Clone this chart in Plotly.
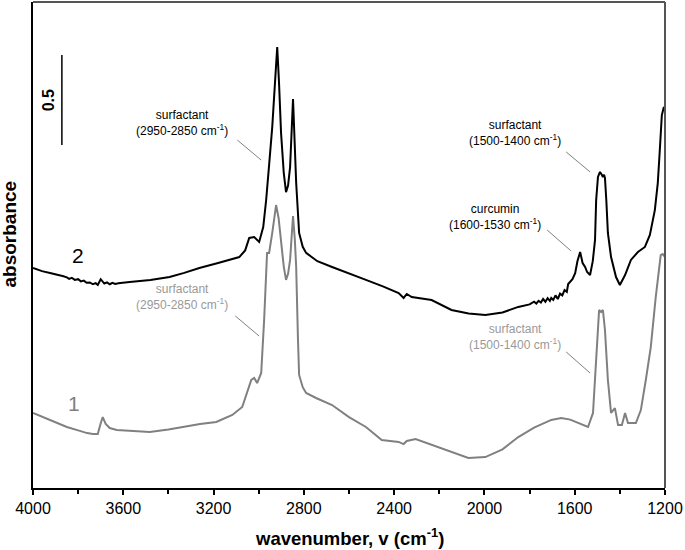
import plotly.graph_objects as go

# ---- data: spectrum 2 (black) ----
wn2 = [4000, 3960, 3920, 3881, 3865, 3850, 3840, 3828, 3815, 3800, 3788, 3775, 3762, 3748, 3735, 3722, 3713,
       3700, 3692, 3684, 3672, 3660, 3648, 3636, 3622, 3600, 3572, 3480, 3395, 3330, 3263, 3180, 3086, 3060,
       3042, 3020, 2998, 2980, 2967, 2954, 2940, 2928, 2918, 2910, 2901, 2889, 2879, 2870, 2861, 2848,
       2840, 2834, 2821, 2805, 2790, 2740, 2675, 2600, 2525, 2450, 2380, 2358, 2344, 2322, 2234, 2146,
       2070, 1996, 1920, 1850, 1800, 1780, 1770, 1760, 1750, 1740, 1730, 1720, 1710, 1704, 1695, 1685,
       1675, 1665, 1655, 1645, 1635, 1629, 1610, 1598, 1588, 1576, 1565, 1554, 1545, 1532, 1520, 1510,
       1505, 1497, 1488, 1480, 1475, 1470, 1466, 1460, 1453, 1439, 1417, 1400, 1390, 1377, 1351, 1320,
       1289, 1267, 1245, 1232, 1223, 1214, 1205, 1200]
ab2 = [1.222, 1.205, 1.193, 1.183, 1.176, 1.170, 1.162, 1.168, 1.156, 1.160, 1.148, 1.152, 1.140, 1.142, 1.132, 1.138, 1.128,
       1.160, 1.148, 1.136, 1.142, 1.132, 1.140, 1.134, 1.138, 1.142, 1.144, 1.155, 1.172, 1.195, 1.222, 1.250, 1.283, 1.320,
       1.389, 1.394, 1.367, 1.450, 1.600, 1.794, 2.006, 2.250, 2.450, 2.250, 1.972, 1.750, 1.644, 1.680, 1.783, 2.161,
       1.900, 1.694, 1.417, 1.340, 1.306, 1.260, 1.228, 1.190, 1.156, 1.120, 1.083, 1.056, 1.078, 1.061, 1.044, 0.989,
       0.970, 0.961, 0.975, 1.006, 1.020, 1.035, 1.025, 1.040, 1.030, 1.050, 1.035, 1.055, 1.040, 1.056, 1.045, 1.070,
       1.050, 1.080, 1.070, 1.100, 1.090, 1.133, 1.160, 1.194, 1.260, 1.311, 1.250, 1.228, 1.200, 1.183, 1.260, 1.378,
       1.600, 1.728, 1.756, 1.740, 1.728, 1.740, 1.722, 1.600, 1.417, 1.283, 1.172, 1.128, 1.150, 1.183, 1.267, 1.311,
       1.339, 1.406, 1.544, 1.694, 1.878, 2.072, 2.117, 2.100]

# ---- data: spectrum 1 (grey) ----
wn1 = [4000, 3920, 3850, 3800, 3760, 3735, 3713, 3700, 3691, 3678, 3660, 3629, 3560, 3483, 3400, 3338,
       3260, 3188, 3117, 3073, 3050, 3033, 3020, 3007, 2989, 2976, 2963, 2954, 2940, 2923, 2912, 2901,
       2889, 2879, 2870, 2861, 2848, 2840, 2834, 2826, 2821, 2805, 2790, 2746, 2675, 2600, 2525, 2455,
       2380, 2358, 2344, 2305, 2234, 2146, 2071, 1996, 1920, 1850, 1780, 1704, 1660, 1620, 1585, 1541,
       1519, 1506, 1492, 1483, 1475, 1466, 1453, 1439, 1422, 1408, 1391, 1377, 1364, 1329, 1307, 1285,
       1263, 1241, 1232, 1219, 1210, 1200]
ab1 = [0.417, 0.375, 0.339, 0.320, 0.305, 0.300, 0.300, 0.360, 0.394, 0.356, 0.333, 0.322, 0.315, 0.311, 0.325, 0.339,
       0.355, 0.367, 0.406, 0.450, 0.540, 0.600, 0.611, 0.583, 0.639, 0.933, 1.306, 1.306, 1.417, 1.572, 1.500, 1.378,
       1.230, 1.156, 1.190, 1.267, 1.511, 1.380, 1.228, 0.822, 0.628, 0.560, 0.528, 0.500, 0.461, 0.394, 0.339, 0.267,
       0.256, 0.244, 0.261, 0.272, 0.239, 0.200, 0.167, 0.172, 0.215, 0.283, 0.335, 0.378, 0.389, 0.380, 0.361, 0.339,
       0.417, 0.694, 0.989, 0.978, 0.989, 0.878, 0.600, 0.417, 0.444, 0.350, 0.350, 0.417, 0.361, 0.361, 0.433, 0.600,
       0.783, 1.061, 1.172, 1.294, 1.300, 1.283]

# ---- axis ticks ----
tick_vals = [4000, 3600, 3200, 2800, 2400, 2000, 1600, 1200]
tick_text = ["4000", "3600", "3200", "2800", "2400", "2000", "1600", "1200"]

# ---- annotations (text, x, y, colour) ----
ann_text = ["surfactant<br>(2950-2850 cm<sup>-1</sup>)",
            "surfactant<br>(1500-1400 cm<sup>-1</sup>)",
            "curcumin<br>(1600-1530 cm<sup>-1</sup>)",
            "surfactant<br>(2950-2850 cm<sup>-1</sup>)",
            "surfactant<br>(1500-1400 cm<sup>-1</sup>)"]
ann_x = [3338, 1863, 1951, 3338, 1863]
ann_y = [2.030, 1.972, 1.506, 1.061, 0.839]
ann_col = ["#000000", "#000000", "#000000", "#999999", "#999999"]
# leader lines (x0, y0, x1, y1)
lead_x0 = [3095, 1638, 1722, 3104, 1638]
lead_y0 = [1.933, 1.867, 1.433, 0.956, 0.756]
lead_x1 = [2989, 1532, 1616, 2998, 1532]
lead_y1 = [1.822, 1.756, 1.317, 0.844, 0.639]

scale_x = 3872
scale_top = 2.406
scale_len = 0.5

BLACK = "#000000"
GREY = "#808080"
FONT = "Liberation Sans, Arial, sans-serif"

fig = go.Figure()
fig.add_trace(go.Scatter(x=wn1, y=ab1, mode="lines", line=dict(color=GREY, width=2), showlegend=False))
fig.add_trace(go.Scatter(x=wn2, y=ab2, mode="lines", line=dict(color=BLACK, width=2), showlegend=False))

for t, x, y, c in zip(ann_text, ann_x, ann_y, ann_col):
    fig.add_annotation(x=x, y=y, text=t, showarrow=False, font=dict(size=12, color=c, family=FONT),
                       align="center")
for x0, y0, x1, y1, c in zip(lead_x0, lead_y0, lead_x1, lead_y1, ann_col):
    fig.add_shape(type="line", x0=x0, y0=y0, x1=x1, y1=y1, line=dict(color="#808080", width=1))

# curve labels
fig.add_annotation(x=3801, y=1.294, text="2", showarrow=False, font=dict(size=21, color=BLACK, family=FONT))
fig.add_annotation(x=3819, y=0.472, text="1", showarrow=False, font=dict(size=21, color=GREY, family=FONT))

# scale bar
fig.add_shape(type="line", x0=scale_x, x1=scale_x, y0=scale_top - scale_len, y1=scale_top,
              line=dict(color=BLACK, width=1.5))
fig.add_annotation(x=scale_x, y=scale_top - scale_len / 2, text="<b>0.5</b>", textangle=-90,
                   showarrow=False, xanchor="right", xshift=-2, font=dict(size=16, color=BLACK, family=FONT))

# frame top/right
fig.add_shape(type="line", xref="paper", yref="paper", x0=0, x1=1, y0=1, y1=1, line=dict(color="#555555", width=2))
fig.add_shape(type="line", xref="paper", yref="paper", x0=1, x1=1, y0=0, y1=1, line=dict(color="#555555", width=2))

# axis titles
fig.add_annotation(xref="paper", yref="y", x=0, y=1.411, text="<b>absorbance</b>", textangle=-90,
                   showarrow=False, xanchor="right", xshift=-11, font=dict(size=19, color=BLACK, family=FONT))
fig.add_annotation(xref="paper", yref="paper", x=0.5, y=0, text="<b>wavenumber, v (cm<sup>-1</sup>)</b>",
                   showarrow=False, yanchor="top", yshift=-35, font=dict(size=18.5, color=BLACK, family=FONT))

fig.update_xaxes(range=[4000, 1200], tickvals=tick_vals, ticktext=tick_text, ticks="outside", ticklen=5,
                 tickwidth=1.5, tickcolor=BLACK, showline=True, linecolor=BLACK, linewidth=2,
                 showgrid=False, zeroline=False, tickfont=dict(size=16, color=BLACK, family=FONT),
                 minor=dict(dtick=200, tick0=0, ticks="outside", ticklen=4, tickwidth=1.5, tickcolor=BLACK))
fig.update_yaxes(range=[0, 2.7], showticklabels=False, ticks="", showline=True, linecolor=BLACK, linewidth=2,
                 showgrid=False, zeroline=False)

fig.update_layout(width=685, height=550, margin=dict(l=33, r=18, t=2, b=62),
                  plot_bgcolor="white", paper_bgcolor="white", font=dict(family=FONT))

fig.write_html("out.html", config={"displayModeBar": False},
               post_script="document.body.style.margin='0';document.body.style.padding='0';"
                           "document.body.style.overflow='hidden';")
